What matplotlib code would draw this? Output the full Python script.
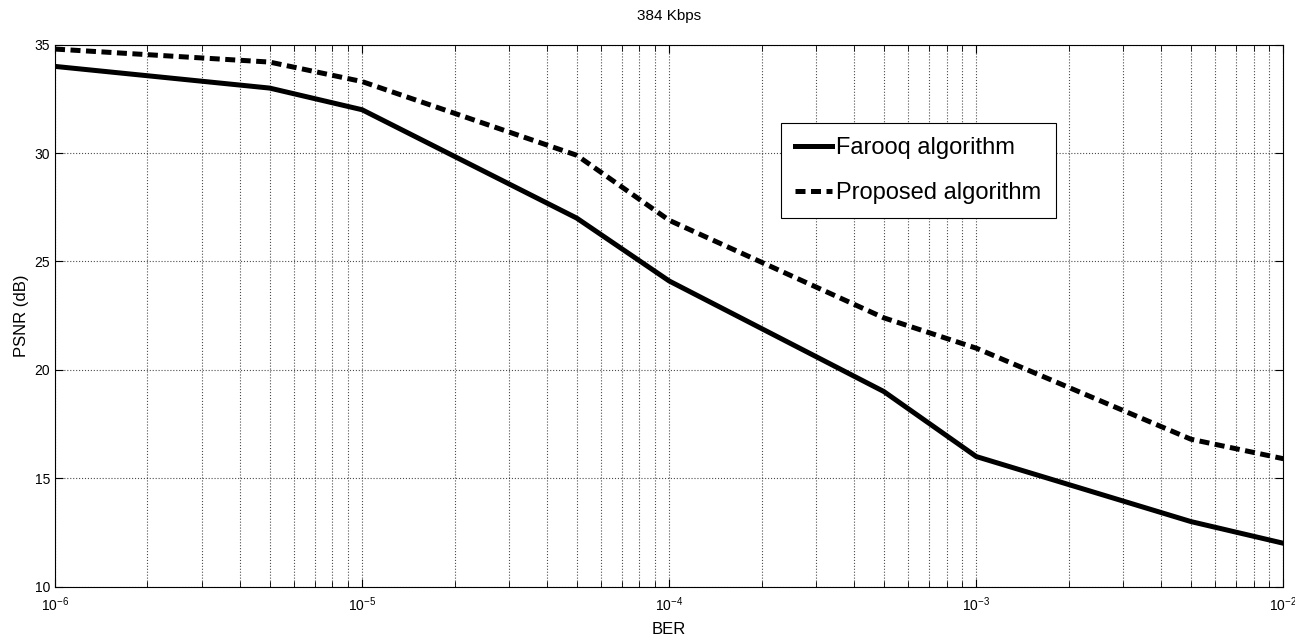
import numpy as np
import matplotlib.pyplot as plt
from matplotlib.ticker import LogLocator, MultipleLocator, NullFormatter

plt.rcParams['font.family'] = ['Liberation Sans', 'DejaVu Sans']
plt.rcParams['mathtext.fontset'] = 'custom'
plt.rcParams['mathtext.rm'] = 'Liberation Sans'
plt.rcParams['mathtext.it'] = 'Liberation Sans'

# bit error rate vs PSNR at 384 Kbps
ber = [1e-6, 5e-6, 1e-5, 5e-5, 1e-4, 5e-4, 1e-3, 5e-3, 1e-2]
farooq = [34.0, 33.0, 32.0, 27.0, 24.1, 19.0, 16.0, 13.0, 12.0]
proposed = [34.8, 34.2, 33.3, 29.9, 26.9, 22.4, 21.0, 16.8, 15.9]

fig, ax = plt.subplots(figsize=(12.95, 6.39), dpi=100)
fig.subplots_adjust(left=0.0425, right=0.991, top=0.930, bottom=0.082)

ax.semilogx(ber, farooq, 'k-', lw=3.6, label='Farooq algorithm')
ax.semilogx(ber, proposed, 'k--', lw=3.6, dashes=(2.0, 1.1), label='Proposed algorithm')

ax.set_xlim(1e-6, 1e-2)
ax.set_ylim(10, 35)
ax.yaxis.set_major_locator(MultipleLocator(5))
ax.xaxis.set_major_locator(LogLocator(base=10, numticks=10))
ax.xaxis.set_minor_locator(LogLocator(base=10, subs=np.arange(2, 10), numticks=20))
ax.xaxis.set_minor_formatter(NullFormatter())

ax.tick_params(which='both', direction='in', top=True, right=True, labelsize=10)
ax.tick_params(axis='x', which='major', pad=6)
ax.tick_params(which='major', length=6)
ax.tick_params(which='minor', length=4)
ax.grid(True, which='major', axis='both', ls=':', color='k', lw=0.8, alpha=0.7)
ax.grid(True, which='minor', axis='x', ls=':', color='k', lw=0.8, alpha=0.7)

ax.set_title('384 Kbps', fontsize=11, pad=18)
ax.set_xlabel('BER', fontsize=12, labelpad=6)
ax.set_ylabel('PSNR (dB)', fontsize=12, labelpad=4)

leg = ax.legend(loc='upper left', bbox_to_anchor=(0.591, 0.855), borderaxespad=0,
                fontsize=17, fancybox=False, framealpha=1, edgecolor='k',
                handlelength=1.55, handletextpad=0.2, borderpad=0.6, labelspacing=0.95)
leg.get_frame().set_linewidth(0.8)

plt.savefig('out.png')
